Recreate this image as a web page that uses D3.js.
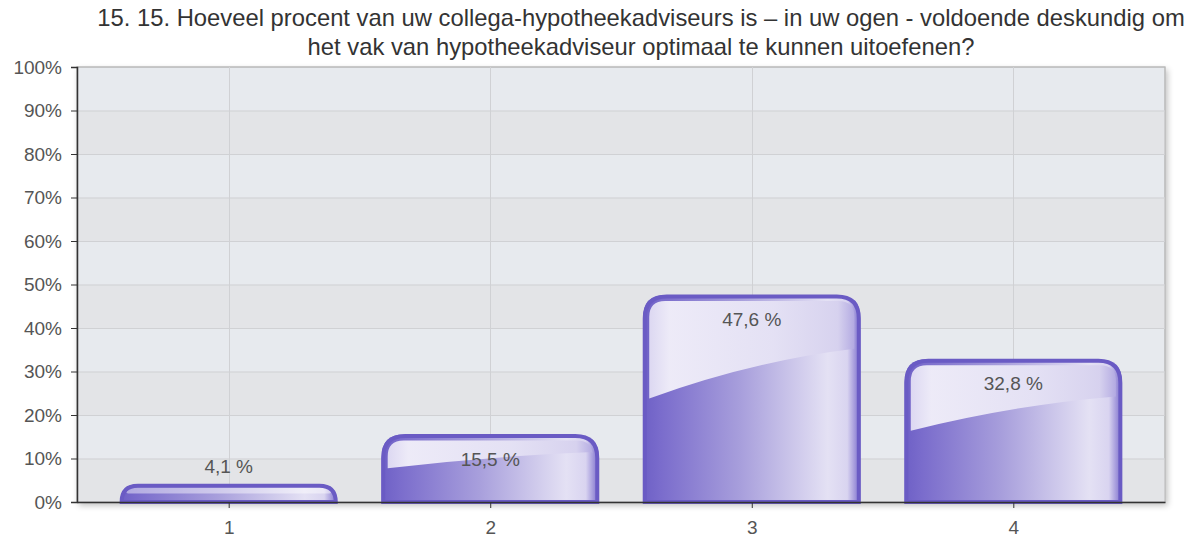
<!DOCTYPE html>
<html><head><meta charset="utf-8">
<script src="https://cdn.jsdelivr.net/npm/d3@7"></script>
<style>body{margin:0;background:#fff;} svg{display:block;font-family:"Liberation Sans",Arial,sans-serif;}</style>
</head><body>
<script>
const titleLines = ["15. 15. Hoeveel procent van uw collega-hypotheekadviseurs is \u2013 in uw ogen - voldoende deskundig om",
                    "het vak van hypotheekadviseur optimaal te kunnen uitoefenen?"];
const categories = ["1","2","3","4"];
const values = [4.1, 15.5, 47.6, 32.8];
const valueLabels = ["4,1 %","15,5 %","47,6 %","32,8 %"];
const yTicks = [0,10,20,30,40,50,60,70,80,90,100];

const W = 1201, H = 540;
const m = {left:77, right:36, top:67, bottom:38};
const iw = W - m.left - m.right, ih = H - m.top - m.bottom;

const svg = d3.select("body").append("svg").attr("width",W).attr("height",H);
const defs = svg.append("defs");

const body = defs.append("linearGradient").attr("id","bodyG").attr("x1","0").attr("x2","1").attr("y1","0").attr("y2","0");
[[0,"#6e60c6"],[0.08,"#7a6ccc"],[0.45,"#a89fdc"],[0.85,"#e4e1f4"],[0.94,"#d9d4f0"],[1,"#7a6ccc"]].forEach(s=>body.append("stop").attr("offset",s[0]).attr("stop-color",s[1]));
const hi = defs.append("linearGradient").attr("id","hiG").attr("x1","0").attr("x2","1").attr("y1","0").attr("y2","0");
[[0,"#e2def4"],[0.1,"#f3f1fa"],[0.6,"#e6e3f5"],[0.92,"#d6d1ee"],[1,"#b3aae2"]].forEach(s=>hi.append("stop").attr("offset",s[0]).attr("stop-color",s[1]));
const shadow = defs.append("filter").attr("id","sh").attr("x","-5%").attr("y","-5%").attr("width","110%").attr("height","115%");
shadow.append("feGaussianBlur").attr("in","SourceAlpha").attr("stdDeviation",3);
shadow.append("feOffset").attr("dx",2).attr("dy",3).attr("result","b");
shadow.append("feComponentTransfer").append("feFuncA").attr("type","linear").attr("slope",0.25);
const fm = shadow.append("feMerge"); fm.append("feMergeNode"); fm.append("feMergeNode").attr("in","SourceGraphic");

const g = svg.append("g").attr("transform",`translate(${m.left},${m.top})`);

const x = d3.scalePoint().domain(categories).range([0,iw]).padding(0.58);
const y = d3.scaleLinear().domain([0,100]).range([ih,0]);
const bw = x.step()*0.83;

// plot background with alternating bands
g.append("rect").attr("width",iw).attr("height",ih).attr("fill","#e7eaee").attr("stroke","#b8b8b8").attr("filter","url(#sh)");
g.selectAll(".band").data(yTicks.slice(0,-1).filter((d,i)=>i%2===0)).join("rect")
  .attr("x",0).attr("width",iw).attr("y",d=>y(d+10)).attr("height",d=>y(d)-y(d+10)).attr("fill","#e3e4e7");
g.append("rect").attr("width",iw).attr("height",ih).attr("fill","none").attr("stroke","#b8b8b8");

// grid
g.selectAll(".hg").data(yTicks.slice(1,-1)).join("line")
  .attr("x1",0).attr("x2",iw).attr("y1",d=>y(d)+0.5).attr("y2",d=>y(d)+0.5).attr("stroke","#d0d1d4");
g.selectAll(".vg").data(categories).join("line")
  .attr("x1",d=>Math.round(x(d))+0.5).attr("x2",d=>Math.round(x(d))+0.5).attr("y1",0).attr("y2",ih).attr("stroke","#d0d1d4");

// bars
function barPath(x0, top, w, h, r){
  r = Math.min(r, h, w/2);
  const b = top + h;
  return `M${x0},${b} L${x0},${top+r} Q${x0},${top} ${x0+r},${top} L${x0+w-r},${top} Q${x0+w},${top} ${x0+w},${top+r} L${x0+w},${b} Z`;
}
const bars = g.selectAll(".bar").data(values).join("g");
bars.each(function(v,i){
  const el = d3.select(this);
  const cx = x(categories[i]);
  const x0 = cx - bw/2, top = y(v), h = y(0)-y(v);
  const r = Math.min(22, h);
  el.append("path").attr("d",barPath(x0,top,bw,h,r)).attr("fill","url(#bodyG)");
  const inset = 6;
  const hx0 = x0+inset, hx1 = x0+bw-inset, ht = top+inset;
  const yl = top + h*0.5, yr = top + h*0.26;
  if (h > 30) {
    const rr = Math.max(0, r-inset);
    const p = `M${hx0},${yl} L${hx0},${ht+rr} Q${hx0},${ht} ${hx0+rr},${ht} L${hx1-rr},${ht} Q${hx1},${ht} ${hx1},${ht+rr} L${hx1},${yr} Q${(hx0+hx1)/2},${yr+ (yl-yr)*0.25} ${hx0},${yl} Z`;
    el.append("path").attr("d",p).attr("fill","url(#hiG)").attr("opacity",0.95);
  } else {
    el.append("rect").attr("x",hx0).attr("y",top+3).attr("width",hx1-hx0).attr("height",Math.max(1,h*0.35)).attr("rx",2).attr("fill","#fff").attr("opacity",0.45);
  }
  el.append("path").attr("d",barPath(x0+1.5,top+1.5,bw-3,h-1.5,r)).attr("fill","none").attr("stroke","#6a5bc4").attr("stroke-width",4);
  const ly = h > 50 ? top + 31 : top - 11;
  el.append("text").attr("x",cx).attr("y",ly).attr("text-anchor","middle").attr("font-size",19).attr("fill","#555").text(valueLabels[i]);
});

// axes
const ya = g.append("g").call(d3.axisLeft(y).tickValues(yTicks).tickFormat(d=>d+"%").tickSize(6).tickPadding(9));
ya.selectAll("text").attr("font-size",19).attr("fill","#555").attr("font-family","Liberation Sans, Arial, sans-serif");
ya.select(".domain").attr("stroke","#333").attr("stroke-width",1.5);
ya.selectAll(".tick line").attr("stroke","#333");
const xa = g.append("g").attr("transform",`translate(0,${ih})`).call(d3.axisBottom(x).tickSize(6).tickPadding(13).tickSizeOuter(0));
xa.selectAll("text").attr("font-size",19).attr("fill","#555").attr("font-family","Liberation Sans, Arial, sans-serif");
xa.select(".domain").attr("stroke","#333").attr("stroke-width",1.5);
xa.selectAll(".tick line").attr("stroke","#333");

// title
svg.selectAll(".title").data(titleLines).join("text")
  .attr("x",641).attr("y",(d,i)=>26+i*29).attr("text-anchor","middle")
  .attr("font-size",23.8).attr("fill","#333").text(d=>d);
</script>
</body></html>
